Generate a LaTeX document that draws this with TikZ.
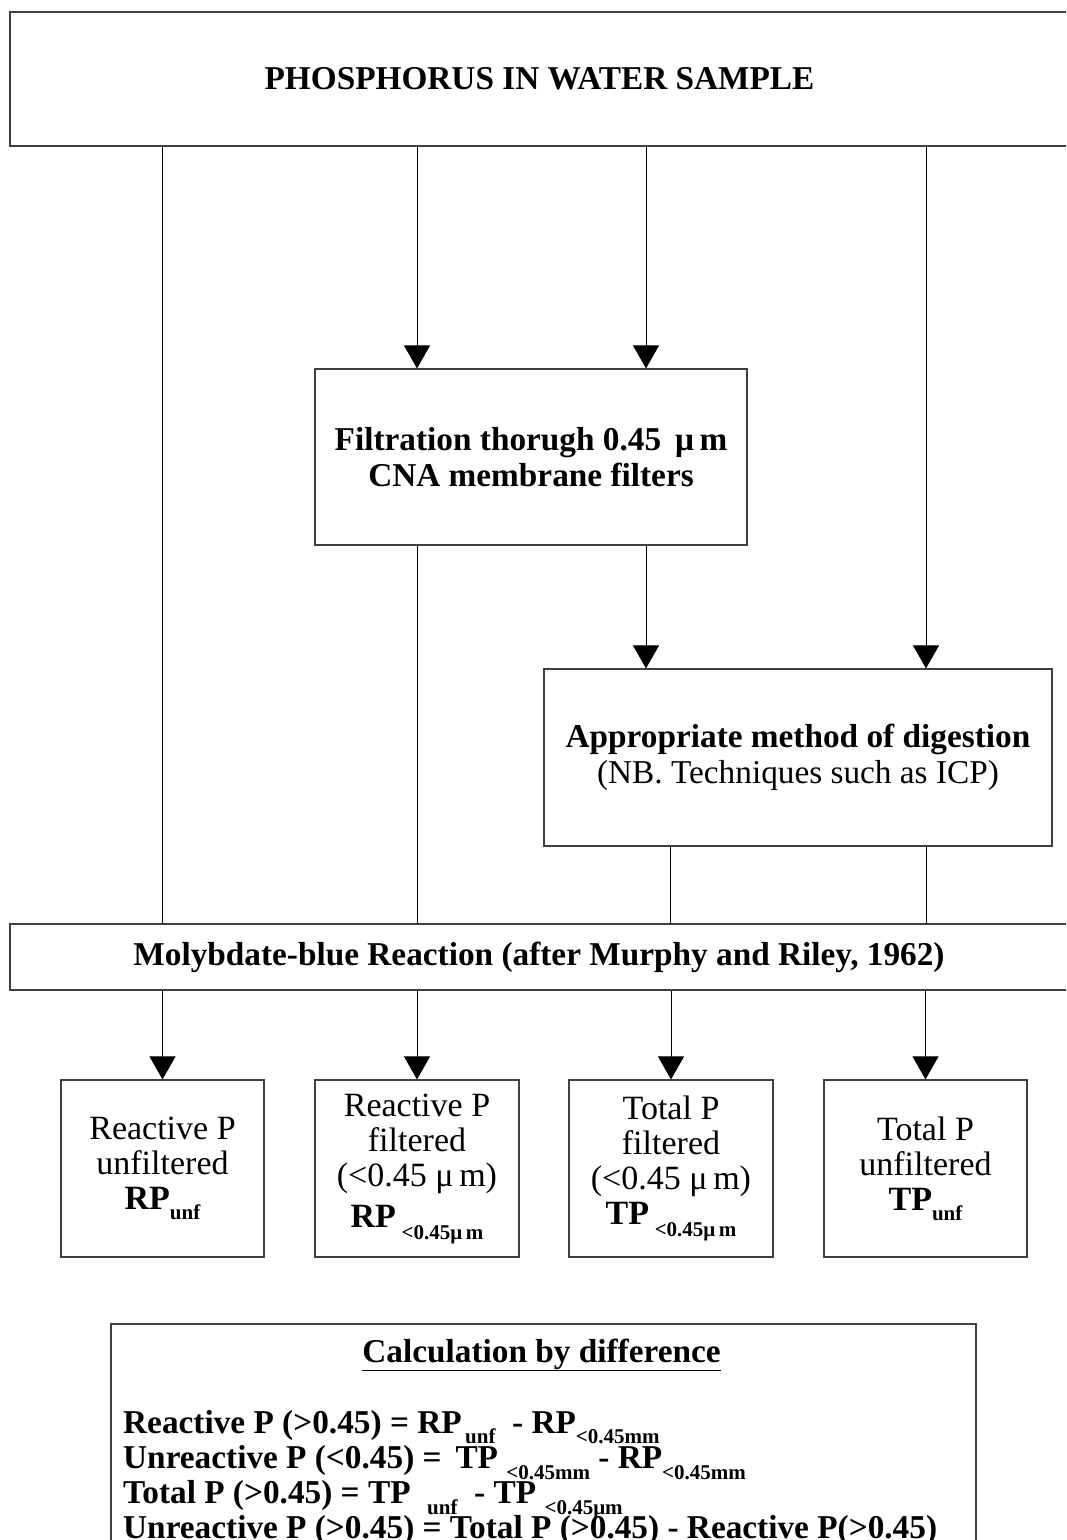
\documentclass[tikz,border=0pt]{standalone}
\usepackage{fontspec}
\setmainfont{Liberation Serif}
\usetikzlibrary{arrows.meta}
\newcommand\mysub[2][-10pt]{\raisebox{#1}{\fontsize{21}{21}\selectfont\bfseries #2}}
\begin{document}
\begin{tikzpicture}[x=1pt,y=-1pt,
  box/.style={draw=black!75, line width=1.2pt, rectangle, inner sep=0pt, align=center},
  conn/.style={line width=1pt, draw=black},
  arr/.style={conn, -{Triangle[width=26pt,length=23pt]}},
  hb/.style={font=\fontsize{33.3}{36}\selectfont\bfseries},
  rb/.style={font=\fontsize{34}{35}\selectfont},
  calcline/.style={anchor=base west, inner sep=0pt, font=\fontsize{33.3}{36}\selectfont\bfseries},
]
\useasboundingbox (0,0) rectangle (1066,1540);
\clip (0,0) rectangle (1066,1540);

% column coordinates
\coordinate (cA) at (162,0);
\coordinate (cB) at (417,0);
\coordinate (cC) at (646,0);
\coordinate (cD) at (926,0);
\coordinate (cE) at (670,0);

\node[box, minimum width=1059pt, minimum height=134pt, hb] (top) at (539.5,79) {PHOSPHORUS IN WATER SAMPLE};

\node[box, minimum width=432pt, minimum height=176pt, hb] (filt) at (531,457)
  {Filtration thorugh 0.45 \,μ\,m\\CNA membrane filters};

\node[box, minimum width=508pt, minimum height=177pt, font=\fontsize{33.3}{36}\selectfont] (dig) at (798,757.5)
  {{\bfseries Appropriate method of digestion}\\(NB. Techniques such as ICP)};

\node[box, minimum width=1058pt, minimum height=66pt, hb] (moly) at (539,957)
  {Molybdate-blue Reaction (after Murphy and Riley, 1962)};

\node[box, minimum width=203pt, minimum height=177pt, rb] (b1) at (162.5,1168.5)
  {Reactive P\\unfiltered\\\textbf{RP}\mysub{unf}};
\node[box, minimum width=204pt, minimum height=177pt, rb] (b2) at (417,1168.5)
  {Reactive P\\filtered\\(<0.45 μ\,m)\\[6pt]\textbf{RP}\,\mysub[-12pt]{<0.45μ\,m}};
\node[box, minimum width=204pt, minimum height=177pt, rb] (b3) at (671,1168.5)
  {Total P\\filtered\\(<0.45 μ\,m)\\\textbf{TP}\,\mysub[-12pt]{<0.45μ\,m}};
\node[box, minimum width=203pt, minimum height=177pt, rb] (b4) at (925.5,1168.5)
  {Total P\\unfiltered\\\textbf{TP}\mysub{unf}};

% connectors
\draw[conn] (top.south -| cA) -- (moly.north -| cA);
\draw[arr] (top.south -| cB) -- (filt.north -| cB);
\draw[arr] (top.south -| cC) -- (filt.north -| cC);
\draw[arr] (top.south -| cD) -- (dig.north -| cD);
\draw[conn] (filt.south -| cB) -- (moly.north -| cB);
\draw[arr] (filt.south -| cC) -- (dig.north -| cC);
\draw[conn] (dig.south -| cE) -- (moly.north -| cE);
\draw[conn] (dig.south -| cD) -- (moly.north -| cD);
\draw[arr] (moly.south -| b1) -- (b1.north);
\draw[arr] (moly.south -| b2) -- (b2.north);
\draw[arr] (moly.south -| b3) -- (b3.north);
\draw[arr] (moly.south -| b4) -- (b4.north);

% calculation box
\node[box, minimum width=865pt, minimum height=240pt] (calc) at (543.5,1444) {};
\node[anchor=base, inner sep=0pt, font=\fontsize{33.3}{36}\selectfont\bfseries] (ctitle) at (541.5,1362)
  {\underline{Calculation by difference}};
\node[calcline] (l1) at (123,1433)
  {Reactive P (>0.45) = RP\mysub{\,unf}\ \ - RP\mysub{<0.45mm}};
\node[calcline] (l2) at (123,1468)
  {Unreactive P (<0.45) = \,TP \mysub[-11pt]{<0.45mm} - RP\mysub[-11pt]{<0.45mm}};
\node[calcline] (l3) at (123,1503)
  {Total P (>0.45) = TP \ \mysub[-11pt]{unf}\ \ - TP \mysub[-11pt]{<0.45μm}};
\node[calcline] (l4) at (123,1538)
  {Unreactive P (>0.45) = Total P (>0.45) - Reactive P(>0.45)};
\end{tikzpicture}
\end{document}
